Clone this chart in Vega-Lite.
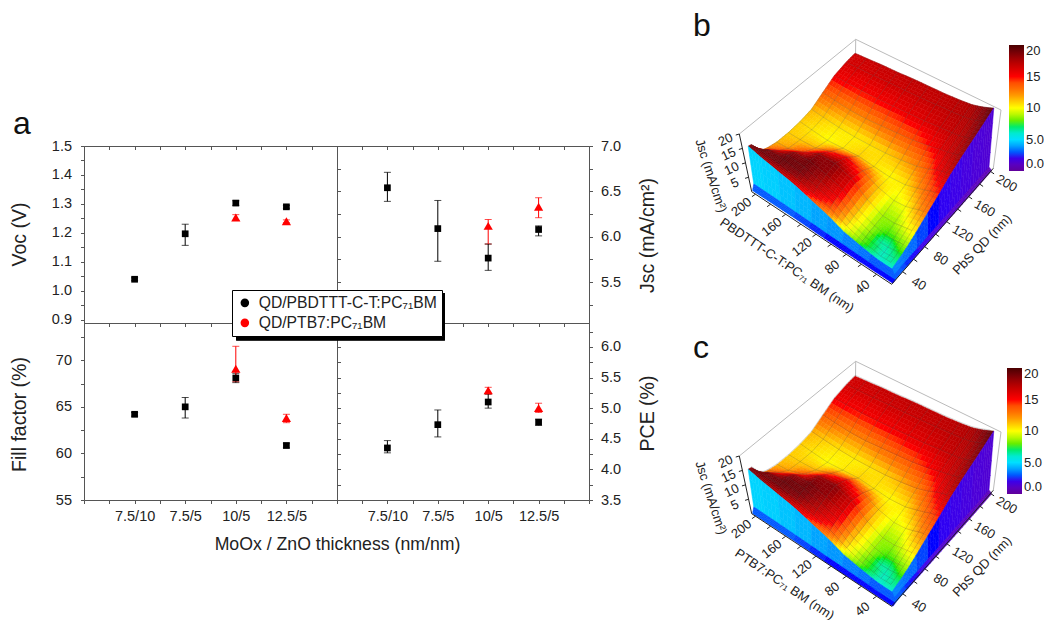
{"$schema":"https://vega.github.io/schema/vega-lite/v6.json","background":"white","padding":0,"bounds":"flush","spacing":0,"columns":4,
"config":{"font":"Liberation Sans","view":{"stroke":null},"axis":{"grid":false,"domain":false,"tickColor":"#555","labelColor":"#222","titleColor":"#222","labelFontSize":14.5,"titleFontSize":19.5,"titleFontWeight":"normal","labelOverlap":false,"labelFlush":false,"tickSize":3.5,"labelPadding":8},"title":{"fontSize":32,"fontWeight":"normal","anchor":"start","frame":"group","offset":0,"color":"#111"}},
"datasets":{"metrics":[
{"m":"Voc","s":"QD/PBDTTT-C-T:PC₇₁BM","n":1,"v":1.04,"lo":1.035,"hi":1.045},{"m":"Voc","s":"QD/PBDTTT-C-T:PC₇₁BM","n":2,"v":1.197,"lo":1.157,"hi":1.23},{"m":"Voc","s":"QD/PBDTTT-C-T:PC₇₁BM","n":3,"v":1.303,"lo":1.295,"hi":1.311},{"m":"Voc","s":"QD/PBDTTT-C-T:PC₇₁BM","n":4,"v":1.29,"lo":1.285,"hi":1.295},{"m":"Voc","s":"QD/PTB7:PC₇₁BM","n":3,"v":1.253,"lo":1.243,"hi":1.263},{"m":"Voc","s":"QD/PTB7:PC₇₁BM","n":4,"v":1.24,"lo":1.235,"hi":1.245},
{"m":"Jsc","s":"QD/PBDTTT-C-T:PC₇₁BM","n":1,"v":6.54,"lo":6.39,"hi":6.71},{"m":"Jsc","s":"QD/PBDTTT-C-T:PC₇₁BM","n":2,"v":6.09,"lo":5.73,"hi":6.4},{"m":"Jsc","s":"QD/PBDTTT-C-T:PC₇₁BM","n":3,"v":5.765,"lo":5.63,"hi":5.92},{"m":"Jsc","s":"QD/PBDTTT-C-T:PC₇₁BM","n":4,"v":6.08,"lo":6.01,"hi":6.12},{"m":"Jsc","s":"QD/PTB7:PC₇₁BM","n":3,"v":6.12,"lo":5.92,"hi":6.19},{"m":"Jsc","s":"QD/PTB7:PC₇₁BM","n":4,"v":6.33,"lo":6.21,"hi":6.43},
{"m":"FF","s":"QD/PBDTTT-C-T:PC₇₁BM","n":1,"v":64.2,"lo":64,"hi":64.4},{"m":"FF","s":"QD/PBDTTT-C-T:PC₇₁BM","n":2,"v":65,"lo":63.8,"hi":66},{"m":"FF","s":"QD/PBDTTT-C-T:PC₇₁BM","n":3,"v":68.1,"lo":67.6,"hi":68.6},{"m":"FF","s":"QD/PBDTTT-C-T:PC₇₁BM","n":4,"v":60.85,"lo":60.6,"hi":61.1},{"m":"FF","s":"QD/PTB7:PC₇₁BM","n":3,"v":69.1,"lo":67.7,"hi":71.5},{"m":"FF","s":"QD/PTB7:PC₇₁BM","n":4,"v":63.8,"lo":63.3,"hi":64.2},
{"m":"PCE","s":"QD/PBDTTT-C-T:PC₇₁BM","n":1,"v":4.35,"lo":4.27,"hi":4.47},{"m":"PCE","s":"QD/PBDTTT-C-T:PC₇₁BM","n":2,"v":4.73,"lo":4.53,"hi":4.97},{"m":"PCE","s":"QD/PBDTTT-C-T:PC₇₁BM","n":3,"v":5.1,"lo":5,"hi":5.23},{"m":"PCE","s":"QD/PBDTTT-C-T:PC₇₁BM","n":4,"v":4.77,"lo":4.72,"hi":4.82},{"m":"PCE","s":"QD/PTB7:PC₇₁BM","n":3,"v":5.29,"lo":5.23,"hi":5.34},{"m":"PCE","s":"QD/PTB7:PC₇₁BM","n":4,"v":5,"lo":4.93,"hi":5.08}],
"surface":[
{"k":"box","g":"a","o":1,"q":20,"p":205,"j":20},{"k":"box","g":"a","o":2,"q":205,"p":205,"j":20},{"k":"box","g":"a","o":3,"q":205,"p":20,"j":20},{"k":"box","g":"b","o":1,"q":205,"p":205,"j":20},{"k":"box","g":"b","o":2,"q":205,"p":205,"j":0},{"k":"box","g":"c","o":1,"q":205,"p":20,"j":20},{"k":"box","g":"c","o":2,"q":205,"p":20,"j":0},
{"k":"ax","g":"d","o":1,"q":20,"p":205,"j":20},{"k":"ax","g":"d","o":2,"q":20,"p":205,"j":0},{"k":"ax","g":"d","o":3,"q":20,"p":20,"j":0},{"k":"ax","g":"d","o":4,"q":205,"p":20,"j":0},
{"k":"tq","q":40,"p":20,"j":0,"t":"40"},{"k":"tq","q":60,"p":20,"j":0},{"k":"tq","q":80,"p":20,"j":0,"t":"80"},{"k":"tq","q":100,"p":20,"j":0},{"k":"tq","q":120,"p":20,"j":0,"t":"120"},{"k":"tq","q":140,"p":20,"j":0},{"k":"tq","q":160,"p":20,"j":0,"t":"160"},{"k":"tq","q":180,"p":20,"j":0},{"k":"tq","q":200,"p":20,"j":0,"t":"200"},
{"k":"tp","q":20,"p":40,"j":0,"t":"40"},{"k":"tp","q":20,"p":60,"j":0},{"k":"tp","q":20,"p":80,"j":0,"t":"80"},{"k":"tp","q":20,"p":100,"j":0},{"k":"tp","q":20,"p":120,"j":0,"t":"120"},{"k":"tp","q":20,"p":140,"j":0},{"k":"tp","q":20,"p":160,"j":0,"t":"160"},{"k":"tp","q":20,"p":180,"j":0},{"k":"tp","q":20,"p":200,"j":0,"t":"200"},
{"k":"tz","q":20,"p":205,"j":5,"t":"5"},{"k":"tz","q":20,"p":205,"j":10,"t":"10"},{"k":"tz","q":20,"p":205,"j":15,"t":"15"},{"k":"tz","q":20,"p":205,"j":20,"t":"20"},
{"k":"Tq","q":128,"p":20,"j":0,"t":"PbS QD (nm)"},{"k":"Tb","q":20,"p":128,"j":0,"t":"PBDTTT-C-T:PC₇₁ BM (nm)"},{"k":"Tc","q":20,"p":128,"j":0,"t":"PTB7:PC₇₁ BM (nm)"},{"k":"Tz","q":20,"p":205,"j":10,"t":"Jsc (mA/cm²)"},
{"q":205,"p":205,"j":16.5},{"q":190,"p":205,"j":16.3},{"q":170,"p":205,"j":15.5},{"q":150,"p":205,"j":13.5},{"q":130,"p":205,"j":11.5},{"q":110,"p":205,"j":11},{"q":90,"p":205,"j":11},{"q":70,"p":205,"j":11.5},{"q":55,"p":205,"j":12.5},{"q":46,"p":205,"j":13.5},{"q":39,"p":205,"j":15.5},{"q":33,"p":205,"j":18.5},{"q":28,"p":205,"j":19},{"q":24,"p":205,"j":4.8},{"q":20,"p":205,"j":3},
{"q":205,"p":190,"j":16.6},{"q":190,"p":190,"j":16.3},{"q":170,"p":190,"j":15.3},{"q":150,"p":190,"j":13},{"q":130,"p":190,"j":11},{"q":110,"p":190,"j":10.5},{"q":90,"p":190,"j":11},{"q":70,"p":190,"j":12},{"q":55,"p":190,"j":14.5},{"q":46,"p":190,"j":16.5},{"q":39,"p":190,"j":18.5},{"q":33,"p":190,"j":19},{"q":28,"p":190,"j":18},{"q":24,"p":190,"j":4.8},{"q":20,"p":190,"j":3},
{"q":205,"p":170,"j":16.8},{"q":190,"p":170,"j":16.3},{"q":170,"p":170,"j":15.2},{"q":150,"p":170,"j":12.5},{"q":130,"p":170,"j":10.5},{"q":110,"p":170,"j":10},{"q":90,"p":170,"j":11.5},{"q":70,"p":170,"j":14.5},{"q":55,"p":170,"j":18},{"q":46,"p":170,"j":19},{"q":39,"p":170,"j":19.2},{"q":33,"p":170,"j":19},{"q":28,"p":170,"j":17},{"q":24,"p":170,"j":4.7},{"q":20,"p":170,"j":3},
{"q":205,"p":150,"j":16.8},{"q":190,"p":150,"j":16.5},{"q":170,"p":150,"j":15.3},{"q":150,"p":150,"j":12.5},{"q":130,"p":150,"j":10.3},{"q":110,"p":150,"j":10.5},{"q":90,"p":150,"j":14},{"q":70,"p":150,"j":18},{"q":55,"p":150,"j":19},{"q":46,"p":150,"j":19},{"q":39,"p":150,"j":18.8},{"q":33,"p":150,"j":18},{"q":28,"p":150,"j":16},{"q":24,"p":150,"j":4.5},{"q":20,"p":150,"j":3},
{"q":205,"p":130,"j":17},{"q":190,"p":130,"j":16.5},{"q":170,"p":130,"j":15.5},{"q":150,"p":130,"j":13},{"q":130,"p":130,"j":10.5},{"q":110,"p":130,"j":11},{"q":90,"p":130,"j":15.5},{"q":70,"p":130,"j":18.5},{"q":55,"p":130,"j":18},{"q":46,"p":130,"j":17.5},{"q":39,"p":130,"j":17},{"q":33,"p":130,"j":16},{"q":28,"p":130,"j":14},{"q":24,"p":130,"j":4.3},{"q":20,"p":130,"j":2.8},
{"q":205,"p":110,"j":17},{"q":190,"p":110,"j":16.6},{"q":170,"p":110,"j":15.8},{"q":150,"p":110,"j":13.5},{"q":130,"p":110,"j":10.8},{"q":110,"p":110,"j":10.5},{"q":90,"p":110,"j":14},{"q":70,"p":110,"j":16.5},{"q":55,"p":110,"j":16},{"q":46,"p":110,"j":15.5},{"q":39,"p":110,"j":15},{"q":33,"p":110,"j":14},{"q":28,"p":110,"j":12},{"q":24,"p":110,"j":4},{"q":20,"p":110,"j":2.6},
{"q":205,"p":90,"j":17},{"q":190,"p":90,"j":16.8},{"q":170,"p":90,"j":16},{"q":150,"p":90,"j":14},{"q":130,"p":90,"j":11.5},{"q":110,"p":90,"j":10},{"q":90,"p":90,"j":11},{"q":70,"p":90,"j":11.5},{"q":55,"p":90,"j":11},{"q":46,"p":90,"j":11},{"q":39,"p":90,"j":10.5},{"q":33,"p":90,"j":10.5},{"q":28,"p":90,"j":9},{"q":24,"p":90,"j":3.8},{"q":20,"p":90,"j":2.5},
{"q":205,"p":70,"j":17.2},{"q":190,"p":70,"j":17},{"q":170,"p":70,"j":16.5},{"q":150,"p":70,"j":15},{"q":130,"p":70,"j":12.5},{"q":110,"p":70,"j":10.5},{"q":90,"p":70,"j":9.5},{"q":70,"p":70,"j":8.5},{"q":55,"p":70,"j":8.5},{"q":46,"p":70,"j":8.5},{"q":39,"p":70,"j":8},{"q":33,"p":70,"j":8},{"q":28,"p":70,"j":7.5},{"q":24,"p":70,"j":3.5},{"q":20,"p":70,"j":2.5},
{"q":205,"p":55,"j":17.5},{"q":190,"p":55,"j":17.2},{"q":170,"p":55,"j":16.8},{"q":150,"p":55,"j":16},{"q":130,"p":55,"j":14},{"q":110,"p":55,"j":12},{"q":90,"p":55,"j":10},{"q":70,"p":55,"j":8.5},{"q":55,"p":55,"j":7.5},{"q":46,"p":55,"j":6.5},{"q":39,"p":55,"j":7},{"q":33,"p":55,"j":7},{"q":28,"p":55,"j":6.5},{"q":24,"p":55,"j":3.3},{"q":20,"p":55,"j":2.5},
{"q":205,"p":46,"j":18},{"q":190,"p":46,"j":17.5},{"q":170,"p":46,"j":17},{"q":150,"p":46,"j":16.5},{"q":130,"p":46,"j":15.3},{"q":110,"p":46,"j":13},{"q":90,"p":46,"j":11},{"q":70,"p":46,"j":9.3},{"q":55,"p":46,"j":7.5},{"q":46,"p":46,"j":6.5},{"q":39,"p":46,"j":6.2},{"q":33,"p":46,"j":6.2},{"q":28,"p":46,"j":6},{"q":24,"p":46,"j":3},{"q":20,"p":46,"j":2.5},
{"q":205,"p":39,"j":18.5},{"q":190,"p":39,"j":18},{"q":170,"p":39,"j":17.5},{"q":150,"p":39,"j":17},{"q":130,"p":39,"j":16},{"q":110,"p":39,"j":14},{"q":90,"p":39,"j":12},{"q":70,"p":39,"j":9.8},{"q":55,"p":39,"j":8},{"q":46,"p":39,"j":7},{"q":39,"p":39,"j":6.5},{"q":33,"p":39,"j":6.5},{"q":28,"p":39,"j":6},{"q":24,"p":39,"j":3},{"q":20,"p":39,"j":2.5},
{"q":205,"p":33,"j":19},{"q":190,"p":33,"j":18.5},{"q":170,"p":33,"j":18},{"q":150,"p":33,"j":17.5},{"q":130,"p":33,"j":16.5},{"q":110,"p":33,"j":14.5},{"q":90,"p":33,"j":12.5},{"q":70,"p":33,"j":10.2},{"q":55,"p":33,"j":8.3},{"q":46,"p":33,"j":7.5},{"q":39,"p":33,"j":6.8},{"q":33,"p":33,"j":6.5},{"q":28,"p":33,"j":6},{"q":24,"p":33,"j":3},{"q":20,"p":33,"j":2.5},
{"q":205,"p":28,"j":19.5},{"q":190,"p":28,"j":19},{"q":170,"p":28,"j":18.5},{"q":150,"p":28,"j":18},{"q":130,"p":28,"j":17},{"q":110,"p":28,"j":15},{"q":90,"p":28,"j":13},{"q":70,"p":28,"j":10.5},{"q":55,"p":28,"j":8.5},{"q":46,"p":28,"j":7.5},{"q":39,"p":28,"j":7},{"q":33,"p":28,"j":6.5},{"q":28,"p":28,"j":6},{"q":24,"p":28,"j":3},{"q":20,"p":28,"j":2.5},
{"q":205,"p":24,"j":1.5},{"q":190,"p":24,"j":1.5},{"q":170,"p":24,"j":1.6},{"q":150,"p":24,"j":1.8},{"q":130,"p":24,"j":2},{"q":110,"p":24,"j":2.2},{"q":90,"p":24,"j":2.5},{"q":70,"p":24,"j":2.8},{"q":55,"p":24,"j":3.2},{"q":46,"p":24,"j":3.3},{"q":39,"p":24,"j":3.4},{"q":33,"p":24,"j":3.5},{"q":28,"p":24,"j":3.5},{"q":24,"p":24,"j":3},{"q":20,"p":24,"j":2.5},
{"q":205,"p":20,"j":0.8},{"q":190,"p":20,"j":0.8},{"q":170,"p":20,"j":0.9},{"q":150,"p":20,"j":1},{"q":130,"p":20,"j":1.2},{"q":110,"p":20,"j":1.4},{"q":90,"p":20,"j":1.7},{"q":70,"p":20,"j":2},{"q":55,"p":20,"j":2.4},{"q":46,"p":20,"j":2.6},{"q":39,"p":20,"j":2.8},{"q":33,"p":20,"j":3},{"q":28,"p":20,"j":3},{"q":24,"p":20,"j":3},{"q":20,"p":20,"j":2.5}]},
"data":{"name":"surface"},
"transform":[
{"calculate":"(datum.q-20)/185","as":"u"},{"calculate":"(datum.p-20)/185","as":"v"},{"calculate":"datum.j/20","as":"w"},
{"calculate":"(1-datum.u)*(1-datum.v)*(303.3+5*datum.w)+datum.u*(1-datum.v)*(402.3+9*datum.w)+(1-datum.u)*datum.v*(165.3-11.6*datum.w)+datum.u*datum.v*266","as":"sx"},
{"calculate":"(1-datum.u)*(1-datum.v)*(286.7-27.4*datum.w)+datum.u*(1-datum.v)*(173.3-64*datum.w)+(1-datum.u)*datum.v*(198-49.7*datum.w)+datum.u*datum.v*(102.7-60*datum.w)","as":"sy"},
{"calculate":"(1-datum.u)*(1-datum.v)*(302.7-7*datum.w)+datum.u*(1-datum.v)*(404.3+7.7*datum.w)+(1-datum.u)*datum.v*(162.7-12.4*datum.w)+datum.u*datum.v*(266.3+0.4*datum.w)","as":"fx"},
{"calculate":"(1-datum.u)*(1-datum.v)*(284.3-79.6*datum.w)+datum.u*(1-datum.v)*(168.3-58.3*datum.w)+(1-datum.u)*datum.v*(191.7-57.7*datum.w)+datum.u*datum.v*(75.7-36.4*datum.w)","as":"fy"},
{"window":[{"op":"lead","field":"sx","as":"ax"},{"op":"lead","field":"sy","as":"ay"},{"op":"lead","field":"j","as":"aj"}],"groupby":["k","p"],"sort":[{"field":"q","order":"ascending"}]},
{"window":[{"op":"lead","field":"sx","as":"bx"},{"op":"lead","field":"sy","as":"by"},{"op":"lead","field":"j","as":"bj"},{"op":"lead","field":"ax","as":"cx"},{"op":"lead","field":"ay","as":"cy"},{"op":"lead","field":"aj","as":"cj"}],"groupby":["k","q"],"sort":[{"field":"p","order":"ascending"}]},
{"calculate":"datum.k?[0]:[0.75,0.5,0.25,0]","as":"fa"},{"flatten":["fa"]},
{"calculate":"datum.k?[0]:[0.75,0.5,0.25,0]","as":"fb"},{"flatten":["fb"]},
{"calculate":"datum.sx+(datum.bx-datum.sx)*datum.fb","as":"lx0"},{"calculate":"datum.ax+(datum.cx-datum.ax)*datum.fb","as":"rx0"},
{"calculate":"datum.sx+(datum.bx-datum.sx)*(datum.fb+0.25)","as":"lx1"},{"calculate":"datum.ax+(datum.cx-datum.ax)*(datum.fb+0.25)","as":"rx1"},
{"calculate":"datum.sy+(datum.by-datum.sy)*datum.fb","as":"ly0"},{"calculate":"datum.ay+(datum.cy-datum.ay)*datum.fb","as":"ry0"},
{"calculate":"datum.sy+(datum.by-datum.sy)*(datum.fb+0.25)","as":"ly1"},{"calculate":"datum.ay+(datum.cy-datum.ay)*(datum.fb+0.25)","as":"ry1"},
{"calculate":"(datum.q<28||datum.p<28)?datum.j:(1-datum.fa-0.125)*(1-datum.fb-0.125)*datum.j+(datum.fa+0.125)*(1-datum.fb-0.125)*datum.aj+(1-datum.fa-0.125)*(datum.fb+0.125)*datum.bj+(datum.fa+0.125)*(datum.fb+0.125)*datum.cj","as":"m"},
{"calculate":"{type:'Polygon',coordinates:[[[datum.lx0+(datum.rx0-datum.lx0)*datum.fa,datum.ly0+(datum.ry0-datum.ly0)*datum.fa],[datum.lx0+(datum.rx0-datum.lx0)*(datum.fa+0.25),datum.ly0+(datum.ry0-datum.ly0)*(datum.fa+0.25)],[datum.lx1+(datum.rx1-datum.lx1)*(datum.fa+0.25),datum.ly1+(datum.ry1-datum.ly1)*(datum.fa+0.25)],[datum.lx1+(datum.rx1-datum.lx1)*datum.fa,datum.ly1+(datum.ry1-datum.ly1)*datum.fa],[datum.lx0+(datum.rx0-datum.lx0)*datum.fa,datum.ly0+(datum.ry0-datum.ly0)*datum.fa]]]}","as":"g2"}],
"concat":[
{"width":84,"height":146,"data":{"values":[{}]},"mark":{"type":"point","opacity":0},"encoding":{}},
{"width":253,"height":146,"title":{"text":"a","dx":-71,"dy":145},"data":{"values":[{}]},"mark":{"type":"point","opacity":0},"encoding":{}},
{"width":252,"height":146,"data":{"values":[{}]},"mark":{"type":"point","opacity":0},"encoding":{}},
{"width":455,"height":146,"title":{"text":"b","dx":104,"dy":47},"layer":[
{"transform":[{"filter":"datum.k=='box'"}],"mark":{"type":"line","stroke":"#bbb","strokeWidth":1},"encoding":{"x":{"field":"fx","type":"quantitative","scale":{"domain":[0,455]},"axis":null},"y":{"field":"fy","type":"quantitative","scale":{"domain":[0,146],"reverse":true},"axis":null},"detail":{"field":"g"},"order":{"field":"o"}}},
{"transform":[{"filter":"!datum.k&&isValid(datum.cx)"}],"mark":{"type":"geoshape","strokeWidth":0.5,"clip":false},"projection":{"type":"identity","scale":1,"translate":[0,0]},"encoding":{"shape":{"field":"g2","type":"geojson"},"fill":{"field":"m","type":"quantitative","scale":{"domain":[0,2.5,5,7.5,10,12.5,15,17.5,20],"range":["#60009a","#0000ff","#00dfff","#00e800","#ffff00","#ff8000","#ff0000","#ae0000","#4a0000"]},"legend":null},"stroke":{"field":"m","type":"quantitative","scale":{"domain":[0,2.5,5,7.5,10,12.5,15,17.5,20],"range":["#60009a","#0000ff","#00dfff","#00e800","#ffff00","#ff8000","#ff0000","#ae0000","#4a0000"]},"legend":null}}},
{"encoding":{"x":{"field":"fx","type":"quantitative","scale":{"domain":[0,455]},"axis":null},"y":{"field":"fy","type":"quantitative","scale":{"domain":[0,146],"reverse":true},"axis":null}},"layer":[
{"transform":[{"filter":"!datum.k&&datum.fa==0&&datum.fb==0&&datum.q>28&&datum.p>28"}],"mark":{"type":"line","stroke":"#444","strokeWidth":0.6,"opacity":0.35},"encoding":{"x":{"field":"sx","type":"quantitative","scale":{"domain":[0,455]},"axis":null},"y":{"field":"sy","type":"quantitative","scale":{"domain":[0,146],"reverse":true},"axis":null},"detail":{"field":"p"},"order":{"field":"q"}}},
{"transform":[{"filter":"!datum.k&&datum.fa==0&&datum.fb==0&&datum.q>28&&datum.p>28"}],"mark":{"type":"line","stroke":"#444","strokeWidth":0.6,"opacity":0.35},"encoding":{"x":{"field":"sx","type":"quantitative","scale":{"domain":[0,455]},"axis":null},"y":{"field":"sy","type":"quantitative","scale":{"domain":[0,146],"reverse":true},"axis":null},"detail":{"field":"q"},"order":{"field":"p"}}},
{"transform":[{"filter":"datum.k=='Tq'"}],"mark":{"type":"square","size":0,"opacity":1},"encoding":{"color":{"field":"j","type":"quantitative","scale":{"domain":[0,2.5,5,7.5,10,12.5,15,17.5,20],"range":["#60009a","#0000ff","#00dfff","#00e800","#ffff00","#ff8000","#ff0000","#ae0000","#4a0000"]},"legend":{"type":"gradient","orient":"none","legendX":420,"legendY":45,"zindex":1,"title":null,"gradientLength":126,"gradientThickness":15,"values":[0,5,10,15,20],"labelExpr":"datum.value<10?format(datum.value,'.1f'):datum.value","labelFontSize":13,"labelColor":"#222","labelOverlap":false,"gradientStrokeColor":"#555"}}}},
{"transform":[{"filter":"datum.k=='ax'"}],"mark":{"type":"line","stroke":"#222","strokeWidth":1},"encoding":{"detail":{"field":"g"},"order":{"field":"o"}}},
{"transform":[{"filter":"datum.k=='tq'"}],"mark":{"type":"point","shape":"M0,0L1,0.7","size":50,"filled":false,"stroke":"#222","opacity":1,"strokeWidth":1}},
{"transform":[{"filter":"datum.k=='tp'"}],"mark":{"type":"point","shape":"M0,0L-1,0.7","size":50,"filled":false,"stroke":"#222","opacity":1,"strokeWidth":1}},
{"transform":[{"filter":"datum.k=='tz'"}],"mark":{"type":"point","shape":"M0,0L-1,0.3","size":50,"filled":false,"stroke":"#222","opacity":1,"strokeWidth":1}},
{"transform":[{"filter":"datum.k=='tq'&&datum.t"}],"mark":{"type":"text","dx":20,"dy":2.4,"angle":30,"fontSize":13,"color":"#222","baseline":"middle"},"encoding":{"text":{"field":"t"}}},
{"transform":[{"filter":"datum.k=='tp'&&datum.t"}],"mark":{"type":"text","dx":-19,"dy":1.6,"angle":-38,"fontSize":13,"color":"#222","baseline":"middle"},"encoding":{"text":{"field":"t"}}},
{"transform":[{"filter":"datum.k=='tz'"}],"mark":{"type":"text","dx":-15,"dy":-0.5,"angle":-25,"fontSize":13,"color":"#222","baseline":"middle"},"encoding":{"text":{"field":"t"}}},
{"transform":[{"filter":"datum.k=='Tq'"}],"mark":{"type":"text","dx":1.4,"dy":42,"angle":-46,"fontSize":13,"color":"#222","baseline":"middle"},"encoding":{"text":{"field":"t"}}},
{"transform":[{"filter":"datum.k=='Tb'"}],"mark":{"type":"text","dx":0.5,"dy":42,"angle":34,"fontSize":13,"color":"#222","baseline":"middle"},"encoding":{"text":{"field":"t"}}},
{"transform":[{"filter":"datum.k=='Tz'"}],"mark":{"type":"text","dx":1.6,"dy":37,"angle":72,"fontSize":13,"color":"#222","baseline":"middle"},"encoding":{"text":{"field":"t"}}}]}]},
{"width":84,"height":177,"data":{"values":[{}]},"mark":{"type":"point","opacity":0},"encoding":{}},
{"data":{"name":"metrics"},"width":253,"height":177,"view":{"stroke":"#555"},"transform":[{"filter":"datum.m=='Voc'"}],
"encoding":{"x":{"field":"n","type":"quantitative","scale":{"domain":[0,5]},"axis":null},"y":{"field":"v","type":"quantitative","scale":{"domain":[0.889,1.5]},"axis":null},"color":{"field":"s","type":"nominal","scale":{"domain":["QD/PBDTTT-C-T:PC₇₁BM","QD/PTB7:PC₇₁BM"],"range":["#000","#f00"]},"legend":null}},
"layer":[
{"mark":{"type":"errorbar","ticks":{"size":7}},"encoding":{"y":{"field":"lo","type":"quantitative","scale":{"domain":[0.889,1.5]},"axis":null},"y2":{"field":"hi"}}},
{"mark":{"type":"point","filled":true,"opacity":1},"encoding":{"size":{"field":"s","type":"nominal","scale":{"domain":["QD/PBDTTT-C-T:PC₇₁BM","QD/PTB7:PC₇₁BM"],"range":[45,85]},"legend":null},"shape":{"field":"s","type":"nominal","scale":{"domain":["QD/PBDTTT-C-T:PC₇₁BM","QD/PTB7:PC₇₁BM"],"range":["square","triangle-up"]},"legend":null}}},
{"mark":{"type":"point","opacity":0},"encoding":{"x":{"field":"n","type":"quantitative","scale":{"domain":[0,5]},"axis":{"orient":"top","values":[0,0.5,1,1.5,2,2.5,3,3.5,4,4.5,5],"labels":false,"title":null,"tickSize":-3.5}},"y":{"field":"v","type":"quantitative","scale":{"domain":[0.889,1.5]},"axis":{"orient":"left","values":[0.9,0.95,1,1.05,1.1,1.15,1.2,1.25,1.3,1.35,1.4,1.45,1.5],"labelExpr":"round(datum.value*100)%10==0?format(datum.value,'.1f'):''","labelPadding":9,"title":"Voc (V)","titleX":-55,"titleY":88}}}}],
"resolve":{"axis":{"x":"independent","y":"independent"}}},
{"data":{"name":"metrics"},"width":252,"height":177,"view":{"stroke":"#555"},"transform":[{"filter":"datum.m=='Jsc'"}],
"encoding":{"x":{"field":"n","type":"quantitative","scale":{"domain":[0,5]},"axis":null},"y":{"field":"v","type":"quantitative","scale":{"domain":[5.05,7]},"axis":null},"color":{"field":"s","type":"nominal","scale":{"domain":["QD/PBDTTT-C-T:PC₇₁BM","QD/PTB7:PC₇₁BM"],"range":["#000","#f00"]},"legend":null}},
"layer":[
{"mark":{"type":"errorbar","ticks":{"size":7}},"encoding":{"y":{"field":"lo","type":"quantitative","scale":{"domain":[5.05,7]},"axis":null},"y2":{"field":"hi"}}},
{"mark":{"type":"point","filled":true,"opacity":1},"encoding":{"size":{"field":"s","type":"nominal","scale":{"domain":["QD/PBDTTT-C-T:PC₇₁BM","QD/PTB7:PC₇₁BM"],"range":[45,85]},"legend":null},"shape":{"field":"s","type":"nominal","scale":{"domain":["QD/PBDTTT-C-T:PC₇₁BM","QD/PTB7:PC₇₁BM"],"range":["square","triangle-up"]},"legend":null}}},
{"mark":{"type":"point","opacity":0},"encoding":{"x":{"field":"n","type":"quantitative","scale":{"domain":[0,5]},"axis":{"orient":"top","values":[0,0.5,1,1.5,2,2.5,3,3.5,4,4.5,5],"labels":false,"title":null,"tickSize":-3.5}},"y":{"field":"v","type":"quantitative","scale":{"domain":[5.05,7]},"axis":{"orient":"right","values":[5.25,5.5,5.75,6,6.25,6.5,6.75,7],"labelExpr":"round(datum.value*100)%50==0?format(datum.value,'.1f'):''","title":"Jsc (mA/cm²)","titleAngle":270,"titleX":68,"titleY":89}}}},
{"mark":{"type":"point","opacity":0},"encoding":{"y":{"field":"v","type":"quantitative","scale":{"domain":[5.05,7]},"axis":{"orient":"left","values":[5.25,5.5,5.75,6,6.25,6.5,6.75,7],"labels":false,"title":null,"tickSize":-3.5}}}}],
"resolve":{"axis":{"x":"independent","y":"independent"}}},
{"width":455,"height":177,"data":{"values":[{}]},"mark":{"type":"point","opacity":0},"encoding":{}},
{"width":84,"height":177,"data":{"values":[{}]},"mark":{"type":"point","opacity":0},"encoding":{}},
{"data":{"name":"metrics"},"width":253,"height":177,"view":{"stroke":"#555"},"transform":[{"filter":"datum.m=='FF'"}],
"encoding":{"x":{"field":"n","type":"quantitative","scale":{"domain":[0,5]},"axis":null},"y":{"field":"v","type":"quantitative","scale":{"domain":[55,74]},"axis":null},"color":{"field":"s","type":"nominal","scale":{"domain":["QD/PBDTTT-C-T:PC₇₁BM","QD/PTB7:PC₇₁BM"],"range":["#000","#f00"]},"legend":null}},
"layer":[
{"mark":{"type":"errorbar","ticks":{"size":7}},"encoding":{"y":{"field":"lo","type":"quantitative","scale":{"domain":[55,74]},"axis":null},"y2":{"field":"hi"}}},
{"mark":{"type":"point","filled":true,"opacity":1},"encoding":{"size":{"field":"s","type":"nominal","scale":{"domain":["QD/PBDTTT-C-T:PC₇₁BM","QD/PTB7:PC₇₁BM"],"range":[45,85]},"legend":null},"shape":{"field":"s","type":"nominal","scale":{"domain":["QD/PBDTTT-C-T:PC₇₁BM","QD/PTB7:PC₇₁BM"],"range":["square","triangle-up"]},"legend":null}}},
{"mark":{"type":"point","opacity":0},"encoding":{"x":{"field":"n","type":"quantitative","scale":{"domain":[0,5]},"axis":{"orient":"bottom","values":[0,0.5,1,1.5,2,2.5,3,3.5,4,4.5,5],"labelExpr":"datum.value==1?'7.5/10':datum.value==2?'7.5/5':datum.value==3?'10/5':datum.value==4?'12.5/5':''","labelPadding":6,"title":"MoOx / ZnO thickness (nm/nm)","titleFontSize":17.7,"titleX":253,"titleY":49,"titleBaseline":"alphabetic"}},"y":{"field":"v","type":"quantitative","scale":{"domain":[55,74]},"axis":{"orient":"left","values":[55,57.5,60,62.5,65,67.5,70,72.5],"labelExpr":"datum.value%5==0?datum.value:''","labelPadding":9,"title":"Fill factor (%)","titleX":-55,"titleY":91}}}},
{"mark":{"type":"point","opacity":0},"encoding":{"x":{"field":"n","type":"quantitative","scale":{"domain":[0,5]},"axis":{"orient":"top","values":[0,0.5,1,1.5,2,2.5,3,3.5,4,4.5,5],"labels":false,"title":null,"tickSize":-3.5}}}}],
"resolve":{"axis":{"x":"independent","y":"independent"}}},
{"data":{"name":"metrics"},"width":252,"height":177,"view":{"stroke":"#555"},"transform":[{"filter":"datum.m=='PCE'"}],
"encoding":{"x":{"field":"n","type":"quantitative","scale":{"domain":[0,5]},"axis":null},"y":{"field":"v","type":"quantitative","scale":{"domain":[3.5,6.39]},"axis":null}},
"layer":[
{"mark":{"type":"rect","color":"#000"},"encoding":{"x":{"datum":-2.0,"type":"quantitative","scale":{"domain":[0,5]},"axis":null},"x2":{"datum":2.14},"y":{"datum":6.88,"type":"quantitative","scale":{"domain":[3.5,6.39]},"axis":null},"y2":{"datum":6.11}}},
{"mark":{"type":"errorbar","ticks":{"size":7}},"encoding":{"y":{"field":"lo","type":"quantitative","scale":{"domain":[3.5,6.39]},"axis":null},"y2":{"field":"hi"},"color":{"field":"s","type":"nominal","scale":{"domain":["QD/PBDTTT-C-T:PC₇₁BM","QD/PTB7:PC₇₁BM"],"range":["#000","#f00"]},"legend":{"orient":"none","legendX":-105,"legendY":-33,"zindex":1,"title":null,"labelFontSize":15.7,"labelColor":"#222","symbolSize":50,"fillColor":"#fff","strokeColor":"#000","padding":5,"rowPadding":3,"labelOffset":6,"labelLimit":300,"symbolOpacity":1}}}},
{"mark":{"type":"point","filled":true,"opacity":1},"encoding":{"size":{"field":"s","type":"nominal","scale":{"domain":["QD/PBDTTT-C-T:PC₇₁BM","QD/PTB7:PC₇₁BM"],"range":[45,85]},"legend":null},"color":{"field":"s","type":"nominal","scale":{"domain":["QD/PBDTTT-C-T:PC₇₁BM","QD/PTB7:PC₇₁BM"],"range":["#000","#f00"]},"legend":{"orient":"none","legendX":-105,"legendY":-33,"zindex":1,"title":null,"labelFontSize":15.7,"labelColor":"#222","symbolSize":50,"fillColor":"#fff","strokeColor":"#000","padding":5,"rowPadding":3,"labelOffset":6,"labelLimit":300,"symbolOpacity":1}},"shape":{"field":"s","type":"nominal","scale":{"domain":["QD/PBDTTT-C-T:PC₇₁BM","QD/PTB7:PC₇₁BM"],"range":["square","triangle-up"]},"legend":{"orient":"none","legendX":-105,"legendY":-33,"zindex":1,"title":null,"labelFontSize":15.7,"labelColor":"#222","symbolSize":50,"fillColor":"#fff","strokeColor":"#000","padding":5,"rowPadding":3,"labelOffset":6,"labelLimit":300,"symbolOpacity":1}}}},
{"mark":{"type":"point","opacity":0},"encoding":{"x":{"field":"n","type":"quantitative","scale":{"domain":[0,5]},"axis":{"orient":"bottom","values":[0,0.5,1,1.5,2,2.5,3,3.5,4,4.5,5],"labelExpr":"datum.value==1?'7.5/10':datum.value==2?'7.5/5':datum.value==3?'10/5':datum.value==4?'12.5/5':''","labelPadding":6,"title":null}},"y":{"field":"v","type":"quantitative","scale":{"domain":[3.5,6.39]},"axis":{"orient":"right","values":[3.5,3.75,4,4.25,4.5,4.75,5,5.25,5.5,5.75,6,6.25],"labelExpr":"round(datum.value*100)%50==0?format(datum.value,'.1f'):''","title":"PCE (%)","titleAngle":270,"titleX":68,"titleY":90}}}},
{"mark":{"type":"point","opacity":0},"encoding":{"x":{"field":"n","type":"quantitative","scale":{"domain":[0,5]},"axis":{"orient":"top","values":[0,0.5,1,1.5,2,2.5,3,3.5,4,4.5,5],"labels":false,"title":null,"tickSize":-3.5}},"y":{"field":"v","type":"quantitative","scale":{"domain":[3.5,6.39]},"axis":{"orient":"left","values":[3.5,3.75,4,4.25,4.5,4.75,5,5.25,5.5,5.75,6,6.25],"labels":false,"title":null,"tickSize":-3.5}}}}],
"resolve":{"axis":{"x":"independent","y":"independent"}}},
{"width":455,"height":177,"title":{"text":"c","dx":104,"dy":46},"layer":[
{"transform":[{"filter":"datum.k=='box'"}],"mark":{"type":"line","stroke":"#bbb","strokeWidth":1},"encoding":{"x":{"field":"fx","type":"quantitative","scale":{"domain":[0,455]},"axis":null},"y":{"field":"fy","type":"quantitative","scale":{"domain":[1,178],"reverse":true},"axis":null},"detail":{"field":"g"},"order":{"field":"o"}}},
{"transform":[{"filter":"!datum.k&&isValid(datum.cx)"}],"mark":{"type":"geoshape","strokeWidth":0.5,"clip":false},"projection":{"type":"identity","scale":1,"translate":[0,-1]},"encoding":{"shape":{"field":"g2","type":"geojson"},"fill":{"field":"m","type":"quantitative","scale":{"domain":[0,2.5,5,7.5,10,12.5,15,17.5,20],"range":["#60009a","#0000ff","#00dfff","#00e800","#ffff00","#ff8000","#ff0000","#ae0000","#4a0000"]},"legend":null},"stroke":{"field":"m","type":"quantitative","scale":{"domain":[0,2.5,5,7.5,10,12.5,15,17.5,20],"range":["#60009a","#0000ff","#00dfff","#00e800","#ffff00","#ff8000","#ff0000","#ae0000","#4a0000"]},"legend":null}}},
{"encoding":{"x":{"field":"fx","type":"quantitative","scale":{"domain":[0,455]},"axis":null},"y":{"field":"fy","type":"quantitative","scale":{"domain":[1,178],"reverse":true},"axis":null}},"layer":[
{"transform":[{"filter":"!datum.k&&datum.fa==0&&datum.fb==0&&datum.q>28&&datum.p>28"}],"mark":{"type":"line","stroke":"#444","strokeWidth":0.6,"opacity":0.35},"encoding":{"x":{"field":"sx","type":"quantitative","scale":{"domain":[0,455]},"axis":null},"y":{"field":"sy","type":"quantitative","scale":{"domain":[1,178],"reverse":true},"axis":null},"detail":{"field":"p"},"order":{"field":"q"}}},
{"transform":[{"filter":"!datum.k&&datum.fa==0&&datum.fb==0&&datum.q>28&&datum.p>28"}],"mark":{"type":"line","stroke":"#444","strokeWidth":0.6,"opacity":0.35},"encoding":{"x":{"field":"sx","type":"quantitative","scale":{"domain":[0,455]},"axis":null},"y":{"field":"sy","type":"quantitative","scale":{"domain":[1,178],"reverse":true},"axis":null},"detail":{"field":"q"},"order":{"field":"p"}}},
{"transform":[{"filter":"datum.k=='Tq'"}],"mark":{"type":"square","size":0,"opacity":1},"encoding":{"color":{"field":"j","type":"quantitative","scale":{"domain":[0,2.5,5,7.5,10,12.5,15,17.5,20],"range":["#60009a","#0000ff","#00dfff","#00e800","#ffff00","#ff8000","#ff0000","#ae0000","#4a0000"]},"legend":{"type":"gradient","orient":"none","legendX":418,"legendY":45,"zindex":1,"title":null,"gradientLength":126,"gradientThickness":15,"values":[0,5,10,15,20],"labelExpr":"datum.value<10?format(datum.value,'.1f'):datum.value","labelFontSize":13,"labelColor":"#222","labelOverlap":false,"gradientStrokeColor":"#555"}}}},
{"transform":[{"filter":"datum.k=='ax'"}],"mark":{"type":"line","stroke":"#222","strokeWidth":1},"encoding":{"detail":{"field":"g"},"order":{"field":"o"}}},
{"transform":[{"filter":"datum.k=='tq'"}],"mark":{"type":"point","shape":"M0,0L1,0.7","size":50,"filled":false,"stroke":"#222","opacity":1,"strokeWidth":1}},
{"transform":[{"filter":"datum.k=='tp'"}],"mark":{"type":"point","shape":"M0,0L-1,0.7","size":50,"filled":false,"stroke":"#222","opacity":1,"strokeWidth":1}},
{"transform":[{"filter":"datum.k=='tz'"}],"mark":{"type":"point","shape":"M0,0L-1,0.3","size":50,"filled":false,"stroke":"#222","opacity":1,"strokeWidth":1}},
{"transform":[{"filter":"datum.k=='tq'&&datum.t"}],"mark":{"type":"text","dx":20,"dy":2.4,"angle":30,"fontSize":13,"color":"#222","baseline":"middle"},"encoding":{"text":{"field":"t"}}},
{"transform":[{"filter":"datum.k=='tp'&&datum.t"}],"mark":{"type":"text","dx":-19,"dy":1.6,"angle":-38,"fontSize":13,"color":"#222","baseline":"middle"},"encoding":{"text":{"field":"t"}}},
{"transform":[{"filter":"datum.k=='tz'"}],"mark":{"type":"text","dx":-15,"dy":-0.5,"angle":-25,"fontSize":13,"color":"#222","baseline":"middle"},"encoding":{"text":{"field":"t"}}},
{"transform":[{"filter":"datum.k=='Tq'"}],"mark":{"type":"text","dx":1.4,"dy":42,"angle":-46,"fontSize":13,"color":"#222","baseline":"middle"},"encoding":{"text":{"field":"t"}}},
{"transform":[{"filter":"datum.k=='Tc'"}],"mark":{"type":"text","dx":-3,"dy":41,"angle":34,"fontSize":13,"color":"#222","baseline":"middle"},"encoding":{"text":{"field":"t"}}},
{"transform":[{"filter":"datum.k=='Tz'"}],"mark":{"type":"text","dx":1.6,"dy":37,"angle":72,"fontSize":13,"color":"#222","baseline":"middle"},"encoding":{"text":{"field":"t"}}}]}]}
]}
